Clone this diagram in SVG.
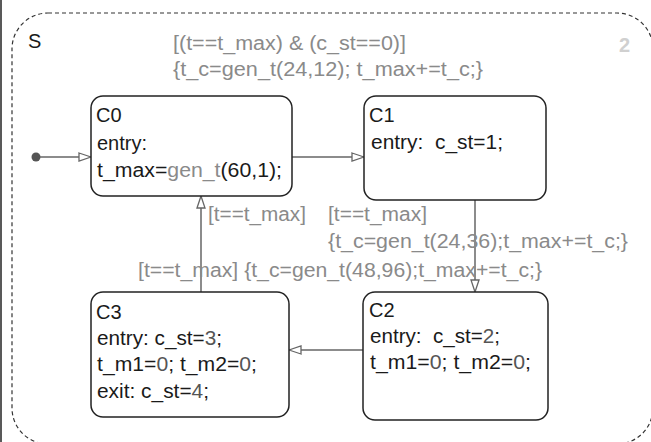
<svg xmlns="http://www.w3.org/2000/svg" width="651" height="442" viewBox="0 0 651 442">
<defs>
<style>
.st{fill:#fff;stroke:#222;stroke-width:1.5}
.t{font-family:"Liberation Sans",Arial,sans-serif;font-size:20px;fill:#1a1a1a}
.g{fill:#8a8a8a}
.n{fill:#555}
.lb{font-family:"Liberation Sans",Arial,sans-serif;font-size:20px;fill:#8a8a8a}
.cn{fill:none;stroke:#666;stroke-width:1.5}
</style>
<marker id="ah" markerWidth="14" markerHeight="10" refX="13" refY="5" orient="auto" markerUnits="userSpaceOnUse">
<path d="M1,1 L13,5 L1,9 Z" fill="#fff" stroke="#666" stroke-width="1.3"/>
</marker>
</defs>
<rect width="651" height="442" fill="#fff"/>
<line x1="1" y1="0" x2="1" y2="442" stroke="#222" stroke-width="1.5"/>
<g id="S">
<rect x="12" y="13" width="641" height="431" rx="36" ry="36" fill="none" stroke="#333" stroke-width="1.2" stroke-dasharray="4,3"/>
<text class="t" x="28" y="48">S</text>
<text x="619" y="52" font-family="Liberation Sans,Arial,sans-serif" font-size="20" font-weight="bold" fill="#d0d0d0">2</text>
</g>
<g id="connectors">
<circle cx="36" cy="157" r="4.5" fill="#555"/>
<line class="cn" x1="40" y1="157" x2="91" y2="157" marker-end="url(#ah)"/>
<line class="cn" x1="292" y1="157" x2="364" y2="157" marker-end="url(#ah)"/>
<line class="cn" x1="475" y1="200" x2="475" y2="292" marker-end="url(#ah)"/>
<line class="cn" x1="363" y1="350" x2="289" y2="350" marker-end="url(#ah)"/>
<line class="cn" x1="201" y1="292" x2="201" y2="196" marker-end="url(#ah)"/>
<text class="lb" x="173" y="50" textLength="233" lengthAdjust="spacingAndGlyphs">[(t==t_max) &amp; (c_st==0)]</text>
<text class="lb" x="173" y="76" textLength="310" lengthAdjust="spacingAndGlyphs">{t_c=gen_t(24,12); t_max+=t_c;}</text>
<text class="lb" x="208" y="221" textLength="98" lengthAdjust="spacingAndGlyphs">[t==t_max]</text>
<text class="lb" x="328" y="221" textLength="99" lengthAdjust="spacingAndGlyphs">[t==t_max]</text>
<text class="lb" x="328" y="248" textLength="300" lengthAdjust="spacingAndGlyphs">{t_c=gen_t(24,36);t_max+=t_c;}</text>
<text class="lb" x="138" y="277" textLength="404" lengthAdjust="spacingAndGlyphs">[t==t_max] {t_c=gen_t(48,96);t_max+=t_c;}</text>
</g>
<g id="C0">
<rect class="st" x="91" y="96" width="201" height="100" rx="12"/>
<text class="t" x="96" y="122">C0</text>
<text class="t" x="97" y="150">entry:</text>
<text class="t" x="97" y="177" textLength="185" lengthAdjust="spacingAndGlyphs">t_max=<tspan class="g">gen_t</tspan>(60,1);</text>
</g>
<g id="C1">
<rect class="st" x="364" y="96" width="182" height="104" rx="12"/>
<text class="t" x="369" y="122">C1</text>
<text class="t" x="371" y="149" textLength="132" lengthAdjust="spacingAndGlyphs">entry:&#160; c_st=1;</text>
</g>
<g id="C2">
<rect class="st" x="363" y="292" width="185" height="128" rx="12"/>
<text class="t" x="369" y="317">C2</text>
<text class="t" x="370" y="343" textLength="130" lengthAdjust="spacingAndGlyphs">entry:&#160; c_st=<tspan class="n">2</tspan>;</text>
<text class="t" x="370" y="369" textLength="161" lengthAdjust="spacingAndGlyphs">t_m1=<tspan class="n">0</tspan>; t_m2=<tspan class="n">0</tspan>;</text>
</g>
<g id="C3">
<rect class="st" x="91" y="292" width="198" height="125" rx="12"/>
<text class="t" x="96" y="319">C3</text>
<text class="t" x="97" y="345" textLength="125" lengthAdjust="spacingAndGlyphs">entry: c_st=<tspan class="n">3</tspan>;</text>
<text class="t" x="97" y="371" textLength="160" lengthAdjust="spacingAndGlyphs">t_m1=<tspan class="n">0</tspan>; t_m2=<tspan class="n">0</tspan>;</text>
<text class="t" x="97" y="398" textLength="112" lengthAdjust="spacingAndGlyphs">exit: c_st=<tspan class="n">4</tspan>;</text>
</g>
</svg>
